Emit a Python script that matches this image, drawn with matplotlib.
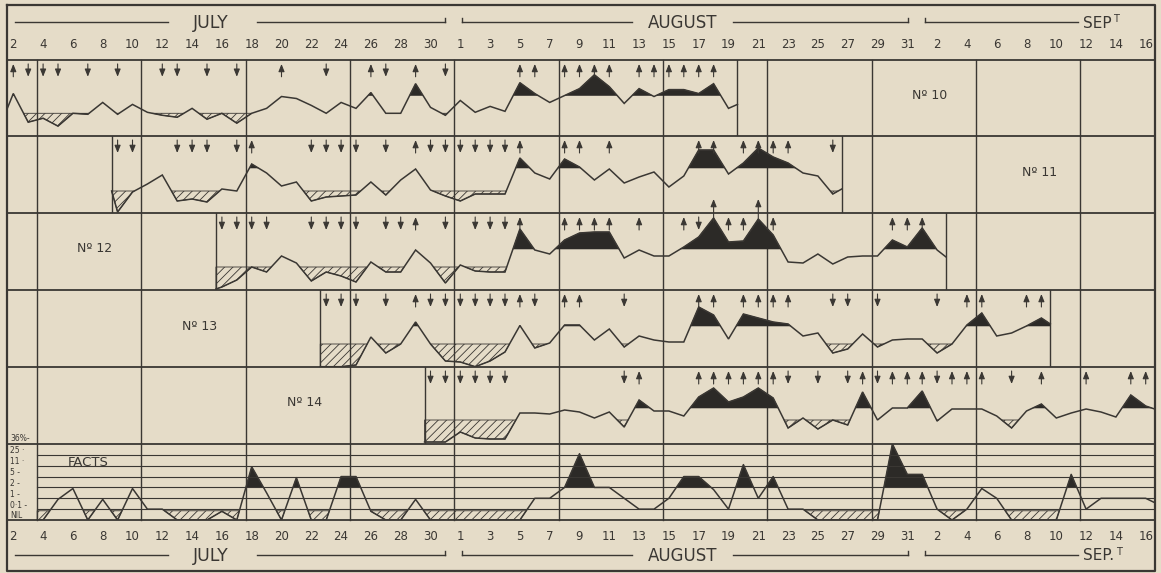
import matplotlib

matplotlib.use("Agg")
import matplotlib.pyplot as plt
import numpy as np

plt.rcParams["font.family"] = ["DejaVu Sans"]
plt.rcParams["hatch.linewidth"] = 0.6

W, H = 1161, 573
X0, PXD = 13.3, 14.9          # pixel of day 0 (2 July) and pixels per day

PAPER = "#e5dcc8"
INK = "#3a3733"
FILL = "#2c2a27"

# ── forecast curves (height in the 77-unit panel; edge, one value per day, edge) ──
NO10 = [28, 43, 14, 18, 10, 23, 22, 34, 22, 32, 24, 21, 19, 28, 17, 23, 13, 23, 28, 40,
        38, 31, 23, 34, 28, 44, 23, 23, 53, 29, 21, 36, 24, 30, 25, 54, 43, 34, 41, 48,
        62, 50, 33, 48, 40, 47, 47, 43, 53, 28, 32]
NO11 = [22, 1, 21, 29, 38, 12, 14, 11, 24, 22, 49, 40, 27, 31, 12, 16, 17, 18, 31, 18,
        33, 44, 23, 17, 12, 19, 19, 19, 55, 40, 34, 54, 46, 33, 44, 30, 36, 41, 26, 37,
        63, 63, 39, 50, 65, 56, 50, 40, 37, 19, 24]
NO12 = [1, 3, 10, 23, 18, 34, 27, 9, 18, 14, 8, 28, 18, 18, 40, 27, 7, 25, 19, 18,
        18, 61, 40, 36, 50, 57, 58, 58, 32, 40, 34, 34, 43, 53, 72, 48, 49, 71, 55, 28,
        27, 36, 26, 33, 34, 34, 50, 43, 62, 40, 33]
NO13 = [0.3, 0.3, 0.3, 2, 30, 14, 23, 45, 23, 6, 5, 0.3, 6, 15, 41.5, 19, 24, 42, 42, 27,
        38, 20, 31, 27, 25, 25, 60, 52, 28, 53, 49, 45, 43, 31, 34, 14, 18, 33, 20, 27,
        28, 28, 14, 23, 42, 54, 31, 34, 41, 49, 43]
NO14 = [2, 2, 2, 12, 6, 5, 5, 31, 31, 30, 34, 32, 26, 32, 17, 44, 33, 33, 28, 47,
        56, 42, 47, 56, 46, 16, 26, 15, 24, 19, 52, 24, 36, 36, 53, 23, 35, 35, 35, 28,
        16, 33, 40, 26, 31, 35, 32, 27, 49, 38, 35]
SERIES = [NO10, NO11, NO12, NO13, NO14]
NAMES = ["Nº 10", "Nº 11", "Nº 12", "Nº 13", "Nº 14"]
LOWER = [23, 22, 23, 23, 24]     # below: hatched
UPPER = [41, 45, 41, 41, 36]     # above: black

UP = [
    [0, 18, 24, 27, 34, 35, 37, 38, 39, 40, 42, 43, 44, 45, 46, 47],
    [16, 27, 34, 37, 38, 40, 46, 47, 49, 50, 51, 52],
    [27, 34, 37, 38, 39, 40, 42, 45, 48, 49, 51, 59, 60, 61],
    [27, 34, 37, 38, 46, 47, 49, 50, 51, 52, 64, 65, 68, 69],
    [42, 46, 47, 48, 49, 50, 51, 57, 59, 60, 61, 63, 64, 65, 69, 72, 75, 76],
]
DOWN = [
    [1, 2, 3, 5, 7, 10, 11, 13, 15, 21, 25, 29],
    [7, 8, 11, 12, 13, 15, 20, 21, 22, 23, 25, 28, 29, 30, 31, 32, 33, 55],
    [14, 15, 16, 17, 20, 21, 22, 23, 25, 26, 29, 31, 32, 33, 46],
    [21, 22, 23, 25, 28, 29, 30, 31, 32, 33, 35, 41, 55, 56, 58, 62],
    [28, 29, 30, 31, 32, 33, 41, 52, 54, 56, 58, 62, 67],
]
TALL_UP = [[], [], [47, 50], [], []]

# ── facts (level index: 0 = NIL ... 7 = 36 %) ──
FACT_LEVELS = ["NIL", "0·1 -", "1 -", "2 -", "5 -", "11 ·", "25 ·", "36%-"]
FACTS_X = [1.6] + list(range(2, 77)) + [76.6]
FACTS = [0,
         0, 1.9, 2.9, 0, 1.9, 0, 2.9, 1.0, 1.0, 0, 0, 0, 0.8, 0, 4.9, 2.5, 0, 3.9, 0, 0,
         4.0, 4.0, 0.8, 0, 0, 1.9, 0, 0, 0, 0, 0, 0, 0, 2.0, 2.0, 3.0, 6.1, 3.0, 3.0, 2.0,
         1.0, 1.0, 2.0, 4.0, 4.0, 2.8, 1.0, 5.1, 2.0, 4.0, 1.0, 1.0, 0, 0, 0, 0, 0, 7.0, 4.2,
         4.2, 1.0, 0, 1.0, 2.9, 2.0, 0, 0, 0, 0, 4.2, 1.0, 2.0, 2.0, 2.0, 2.0,
         1.6]

JULY_DAYS = list(range(2, 31, 2))
AUG_DAYS = list(range(1, 32, 2))
SEPT_DAYS = list(range(2, 17, 2))

ROWS = [60, 136, 213, 290, 367, 444, 520]   # row edges, px from top


def px2day(px):
    return (px - X0) / PXD


def hatch_below(ax, x, y, lo):
    ax.fill_between(x, y, lo, where=y < lo, interpolate=True, facecolor="none",
                    edgecolor=INK, hatch="////", lw=0.6)


def black_above(ax, x, y, hi):
    ax.fill_between(x, y, hi, where=y > hi, interpolate=True, color=FILL, lw=0.4)


def arrow(ax, d, y0, y1, lw=0.8):
    ax.annotate("", xy=(d, y1), xytext=(d, y0), annotation_clip=False,
                arrowprops=dict(arrowstyle="-|>,head_length=0.45,head_width=0.18",
                                lw=lw, color=INK, shrinkA=0, shrinkB=0))


fig = plt.figure(figsize=(W / 100, H / 100), dpi=100, facecolor=PAPER)
bg = fig.add_axes([0, 0, 1, 1])
bg.set_xlim(px2day(0), px2day(W))
bg.set_ylim(H, 0)
bg.axis("off")

L, R = px2day(7), px2day(1155)
bg.plot([L, R, R, L, L], [5, 5, 571, 571, 5], color=INK, lw=1.6)
for y in ROWS:
    bg.plot([L, R], [y, y], color=INK, lw=1.3)
for k in range(11):
    d = 1.6 + 7 * k
    bg.plot([d, d], [ROWS[0], ROWS[-1]], color=INK, lw=1.0)

# month headers and day numbers (top and bottom)
for yline, ytxt, ynum, tick in [(22, 23, 45, -4), (555, 556, 537, -4)]:
    segs = [(15, 168), (257, 445), (462, 632), (733, 908), (925, 1078)]
    for a, b in segs:
        bg.plot([px2day(a), px2day(b)], [yline, yline], color=INK, lw=1.0)
    for p in [445, 462, 908, 925]:
        bg.plot([px2day(p)] * 2, [yline, yline + tick], color=INK, lw=1.0)
    bg.text(px2day(211), ytxt, "JULY", ha="center", va="center", fontsize=12.5, color=INK)
    bg.text(px2day(683), ytxt, "AUGUST", ha="center", va="center", fontsize=12, color=INK)
    sep = "SEP" if ytxt < 100 else "SEP."
    bg.text(px2day(1083), ytxt, sep, ha="left", va="center", fontsize=11, color=INK)
    bg.text(px2day(1083 + (30 if ytxt < 100 else 33)), ytxt - 4, "T", ha="left",
            va="center", fontsize=7, color=INK)
    for day in JULY_DAYS:
        bg.text(day - 2, ynum, str(day), ha="center", va="center", fontsize=8.5, color=INK)
    for day in AUG_DAYS:
        bg.text(29 + day, ynum, str(day), ha="center", va="center", fontsize=8.5, color=INK)
    for day in SEPT_DAYS:
        bg.text(60 + day, ynum, str(day), ha="center", va="center", fontsize=8.5, color=INK)

label_pos = [(930, 41), (1040, 41), (95, 41), (200, 41), (305, 41)]
for i, vals in enumerate(SERIES):
    top, bot = ROWS[i], ROWS[i + 1]
    ax = fig.add_axes([7 / W, 1 - bot / H, (1155 - 7) / W, (bot - top) / H])
    ax.set_xlim(L, R)
    ax.set_ylim(0, 77)
    ax.axis("off")
    start = 7 * i
    x = np.r_[start - 0.4, np.arange(start, start + 49), start + 48.6]
    y = np.asarray(vals, dtype=float)
    hatch_below(ax, x, y, LOWER[i])
    black_above(ax, x, y, UPPER[i])
    ax.plot(x, y, color=INK, lw=1.1, solid_joinstyle="miter")
    for edge in (x[0], x[-1]):
        if L + 0.1 < edge < R - 0.1:
            ax.axvline(edge, color=INK, lw=1.0)
    for d in UP[i]:
        arrow(ax, d, 60, 73)
    for d in DOWN[i]:
        arrow(ax, d, 73, 60)
    for d in TALL_UP[i]:
        arrow(ax, d, 68, 91)
    lx, ly = label_pos[i]
    ax.text(px2day(lx), ly, NAMES[i], ha="center", va="center", fontsize=9, color=INK)

# facts panel
top, bot = ROWS[5], ROWS[6]
axf = fig.add_axes([7 / W, 1 - bot / H, (1155 - 7) / W, (bot - top) / H])
axf.set_xlim(L, R)
axf.set_ylim(0, 7)
axf.axis("off")
for lev in range(1, 7):
    axf.plot([1.6, R], [lev, lev], color=INK, lw=0.8)
fx = np.asarray(FACTS_X, dtype=float)
fy = np.asarray(FACTS, dtype=float)
hatch_below(axf, fx, fy, 0.85)
black_above(axf, fx, fy, 3)
axf.plot(fx, fy, color=INK, lw=1.1)
for lev, lab in enumerate(FACT_LEVELS):
    yy = lev + (0.55 if lev == 7 else 0.38)
    axf.text(px2day(10), yy, lab, ha="left", va="center", fontsize=5.5, color=INK,
             clip_on=False)
axf.text(px2day(88), 5.3, "FACTS", ha="center", va="center", fontsize=9.5, color=INK)

fig.savefig("out.png", dpi=100, facecolor=PAPER)
